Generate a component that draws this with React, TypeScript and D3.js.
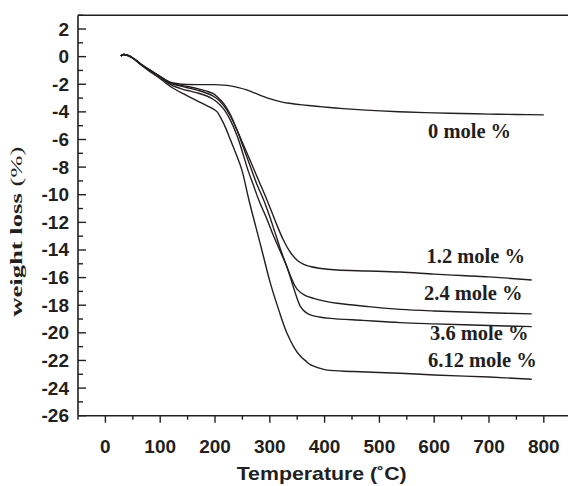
import React from "react";
import * as d3 from "d3";

const W = 568;
const H = 486;

// temperature (°C), weight loss (%)
const temp0 = [28, 33, 40, 50, 65, 82, 100, 118, 135, 149, 175, 198, 215, 228, 243, 258, 273, 289, 304, 319, 335, 350, 370, 392, 420, 447, 475, 502, 550, 600, 650, 700, 750, 800];
const loss0 = [0.05, 0.15, 0.1, -0.1, -0.55, -1.0, -1.45, -1.85, -1.98, -2.02, -2.03, -2.03, -2.06, -2.12, -2.24, -2.41, -2.64, -2.9, -3.1, -3.26, -3.38, -3.45, -3.54, -3.62, -3.72, -3.8, -3.87, -3.93, -4.01, -4.07, -4.12, -4.16, -4.19, -4.22];

const temp12 = [28, 33, 40, 50, 65, 82, 100, 120, 140, 155, 170, 185, 195, 204, 216, 228, 240, 252, 265, 280, 295, 310, 325, 338, 350, 362, 374, 390, 423, 480, 538, 600, 650, 700, 778];
const loss12 = [0.05, 0.15, 0.1, -0.1, -0.55, -1.0, -1.45, -1.9, -2.1, -2.2, -2.33, -2.5, -2.65, -2.9, -3.4, -4.2, -5.3, -6.4, -7.6, -9.0, -10.4, -11.9, -13.3, -14.2, -14.75, -15.05, -15.2, -15.32, -15.45, -15.52, -15.6, -15.75, -15.85, -15.95, -16.17];

const temp24 = [28, 33, 40, 50, 65, 82, 100, 120, 140, 155, 170, 185, 195, 204, 216, 228, 240, 252, 264, 276, 289, 300, 310, 320, 331, 340, 350, 365, 380, 400, 423, 480, 538, 600, 700, 778];
const loss24 = [0.05, 0.15, 0.1, -0.1, -0.55, -1.0, -1.45, -1.95, -2.15, -2.3, -2.45, -2.65, -2.82, -3.05, -3.55, -4.3, -5.3, -6.6, -7.9, -9.2, -10.4, -11.6, -12.8, -14.0, -15.2, -16.1, -16.85, -17.3, -17.5, -17.7, -17.86, -18.1, -18.3, -18.42, -18.55, -18.63];

const temp36 = [28, 33, 40, 50, 65, 82, 100, 120, 140, 155, 170, 185, 195, 204, 216, 228, 240, 250, 260, 270, 280, 293, 305, 318, 331, 340, 348, 356, 365, 374, 390, 410, 470, 538, 600, 700, 778];
const loss36 = [0.05, 0.15, 0.1, -0.1, -0.55, -1.0, -1.5, -2.05, -2.35, -2.5, -2.65, -2.85, -3.05, -3.3, -3.8, -4.6, -5.7, -6.9, -8.2, -9.3, -10.4, -11.6, -12.8, -14.0, -15.2, -16.3, -17.3, -18.1, -18.5, -18.7, -18.85, -18.95, -19.1, -19.26, -19.35, -19.47, -19.55];

const temp612 = [28, 33, 40, 50, 65, 82, 100, 120, 143, 155, 170, 185, 195, 204, 210, 216, 228, 240, 249, 262, 275, 288, 301, 316, 331, 345, 356, 366, 374, 390, 405, 453, 538, 600, 700, 778];
const loss612 = [0.05, 0.15, 0.1, -0.12, -0.6, -1.1, -1.6, -2.2, -2.7, -2.95, -3.25, -3.55, -3.75, -4.0, -4.4, -4.85, -6.0, -7.2, -8.2, -10.4, -12.4, -14.4, -16.4, -18.3, -20.0, -21.1, -21.7, -22.05, -22.3, -22.55, -22.7, -22.8, -22.93, -23.05, -23.2, -23.36];

const seriesTemps = [temp0, temp12, temp24, temp36, temp612];
const seriesLoss = [loss0, loss12, loss24, loss36, loss612];
const seriesLabels = ["0 mole %", "1.2 mole %", "2.4 mole %", "3.6 mole %", "6.12 mole %"];
const labelAnchors = [
  [428, 137.5],
  [426.5, 262.5],
  [424, 300],
  [430, 340],
  [428, 367],
];

const xTicks = [0, 100, 200, 300, 400, 500, 600, 700, 800];
const xMinor = [-50, 50, 150, 250, 350, 450, 550, 650, 750, 850];
const yTicks = [2, 0, -2, -4, -6, -8, -10, -12, -14, -16, -18, -20, -22, -24, -26];
const yMinor = [3, 1, -1, -3, -5, -7, -9, -11, -13, -15, -17, -19, -21, -23, -25];

const xAxisTitle = "Temperature (˚C)";
const yAxisTitleBold = "weight loss ";
const yAxisTitleNormal = "(%)";

export default function App() {
  const left = 78;
  const top = 15.2;
  const bottom = 415.7;
  const x = d3.scaleLinear().domain([-50, 850]).range([left, left + 900 * 0.548]);
  const y = d3.scaleLinear().domain([-26, 3]).range([bottom, top]);

  const line = d3
    .line<[number, number]>()
    .x((d) => x(d[0]))
    .y((d) => y(d[1]))
    .curve(d3.curveCatmullRom.alpha(0.5));

  const sans = "'Liberation Sans', Arial, sans-serif";
  const serif = "'Liberation Serif', 'Times New Roman', serif";
  const ink = "#231f20";

  return (
    <svg
      width={W}
      height={H}
      viewBox={`0 0 ${W} ${H}`}
      style={{ position: "absolute", left: 0, top: 0, background: "#fff" }}
    >
      <rect x={0} y={0} width={W} height={H} fill="#fff" />
      {/* frame */}
      <line x1={left} x2={W} y1={top} y2={top} stroke={ink} strokeWidth={1.6} />
      <line x1={left} x2={left} y1={top} y2={bottom} stroke={ink} strokeWidth={1.6} />
      <line x1={left} x2={W} y1={bottom} y2={bottom} stroke={ink} strokeWidth={1.6} />

      {/* x ticks */}
      {xTicks.map((t) => (
        <g key={"xt" + t}>
          <line x1={x(t)} x2={x(t)} y1={bottom} y2={bottom + 7} stroke={ink} strokeWidth={1.4} />
          <text
            x={x(t)}
            y={453}
            textAnchor="middle"
            fontFamily={sans}
            fontWeight="bold"
            fontSize={19}
            fill={ink}
          >
            {t}
          </text>
        </g>
      ))}
      {xMinor.map((t) => (
        <line key={"xm" + t} x1={x(t)} x2={x(t)} y1={bottom} y2={bottom + 4} stroke={ink} strokeWidth={1.4} />
      ))}

      {/* y ticks */}
      {yTicks.map((t) => (
        <g key={"yt" + t}>
          <line x1={left} x2={left + 8} y1={y(t)} y2={y(t)} stroke={ink} strokeWidth={1.4} />
          <text
            x={69}
            y={y(t) + 6.5}
            textAnchor="end"
            fontFamily={sans}
            fontWeight="bold"
            fontSize={19}
            fill={ink}
          >
            {t}
          </text>
        </g>
      ))}
      {yMinor.map((t) => (
        <line key={"ym" + t} x1={left} x2={left + 5} y1={y(t)} y2={y(t)} stroke={ink} strokeWidth={1.4} />
      ))}

      {/* axis titles */}
      <text
        x={321.7}
        y={480}
        textAnchor="middle"
        fontFamily={sans}
        fontWeight="bold"
        fontSize={19}
        fill={ink}
        textLength={170}
        lengthAdjust="spacingAndGlyphs"
      >
        {xAxisTitle}
      </text>
      <text
        transform={`translate(22,231.7) rotate(-90)`}
        textAnchor="middle"
        fontFamily={serif}
        fontSize={17}
        fill={ink}
        textLength={170}
        lengthAdjust="spacingAndGlyphs"
      >
        <tspan fontWeight="bold">{yAxisTitleBold}</tspan>
        <tspan fontWeight="normal">{yAxisTitleNormal}</tspan>
      </text>

      {/* curves */}
      {seriesTemps.map((ts, i) => {
        const pts: [number, number][] = ts.map((t, j) => [t, seriesLoss[i][j]]);
        return (
          <path
            key={"s" + i}
            d={line(pts) || ""}
            fill="none"
            stroke={ink}
            strokeWidth={1.4}
            strokeLinejoin="round"
          />
        );
      })}

      {/* labels */}
      {seriesLabels.map((s, i) => (
        <text
          key={"l" + i}
          x={labelAnchors[i][0]}
          y={labelAnchors[i][1]}
          fontFamily={serif}
          fontWeight="bold"
          fontSize={20.5}
          fill={ink}
        >
          {s}
        </text>
      ))}
    </svg>
  );
}
